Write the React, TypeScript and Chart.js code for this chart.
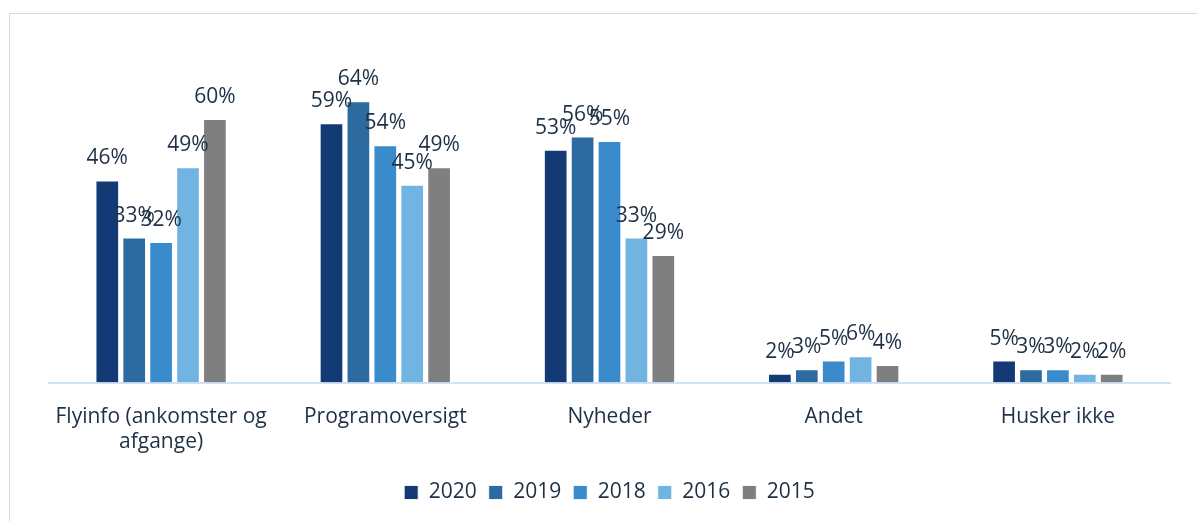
import React, { useEffect, useRef } from "react";
import { Chart, registerables } from "chart.js";

Chart.register(...registerables);

const categories: (string | string[])[] = [
  ["Flyinfo (ankomster og", "afgange)"],
  "Programoversigt",
  "Nyheder",
  "Andet",
  "Husker ikke",
];
const seriesNames = ["2020", "2019", "2018", "2016", "2015"];
const values2020 = [46, 59, 53, 2, 5];
const values2019 = [33, 64, 56, 3, 3];
const values2018 = [32, 54, 55, 5, 3];
const values2016 = [49, 45, 33, 6, 2];
const values2015 = [60, 49, 29, 4, 2];
const seriesValues = [values2020, values2019, values2018, values2016, values2015];
const seriesColors = ["#143a75", "#2c6aa0", "#3a8bcb", "#72b4e1", "#7f7f7f"];

const FONT = "'Open Sans', sans-serif";
const TEXT = "#1f3045";

const labelPlugin = {
  id: "barLabels",
  afterDatasetsDraw(chart: any) {
    const ctx = chart.ctx;
    ctx.save();
    ctx.font = `21px ${FONT}`;
    ctx.fillStyle = TEXT;
    ctx.textAlign = "center";
    ctx.textBaseline = "alphabetic";
    chart.data.datasets.forEach((ds: any, di: number) => {
      const meta = chart.getDatasetMeta(di);
      meta.data.forEach((bar: any, i: number) => {
        ctx.fillText(`${ds.data[i]}%`, bar.x, bar.y - 16);
      });
    });
    ctx.restore();
  },
};

export default function App() {
  const ref = useRef<HTMLCanvasElement | null>(null);
  useEffect(() => {
    if (!ref.current) return;
    const chart = new Chart(ref.current, {
      type: "bar",
      data: {
        labels: categories,
        datasets: seriesNames.map((name, i) => ({
          label: name,
          data: seriesValues[i],
          backgroundColor: seriesColors[i],
          borderColor: "rgba(255,255,255,0.85)",
          borderWidth: 1,
          categoryPercentage: 0.6,
          barPercentage: 0.88,
        })),
      },
      options: {
        responsive: false,
        animation: false,
        devicePixelRatio: 1,
        layout: { padding: { left: 49, right: 27, top: 75, bottom: 8 } },
        scales: {
          x: {
            grid: { display: false, drawTicks: false },
            border: { display: true, color: "#d3e2f2", width: 2 },
            ticks: {
              padding: 21.5,
              color: TEXT,
              font: { family: FONT, size: 21, lineHeight: 1.2 },
              maxRotation: 0,
              autoSkip: false,
            },
            afterFit: (scale: any) => {
              scale.height = 87.5;
            },
          },
          y: {
            display: false,
            min: 0,
            max: 70,
          },
        },
        plugins: {
          legend: {
            position: "bottom",
            labels: {
              boxWidth: 14,
              boxHeight: 14,
              padding: 12,
              color: TEXT,
              font: { family: FONT, size: 21 },
            },
          },
          tooltip: { enabled: false },
        },
      },
      plugins: [labelPlugin],
    });
    return () => chart.destroy();
  }, []);
  return (
    <div style={{ position: "fixed", left: 0, top: 0, width: 1197, height: 521, background: "#fff", overflow: "hidden" }}>
      <div
        style={{
          position: "absolute",
          left: 9,
          top: 13,
          width: 1188,
          height: 508,
          borderTop: "1px solid #d9d9d9",
          borderLeft: "1px solid #d9d9d9",
          boxSizing: "border-box",
        }}
      />
      <canvas ref={ref} width={1197} height={521} style={{ position: "absolute", left: 0, top: 0 }} />
    </div>
  );
}
